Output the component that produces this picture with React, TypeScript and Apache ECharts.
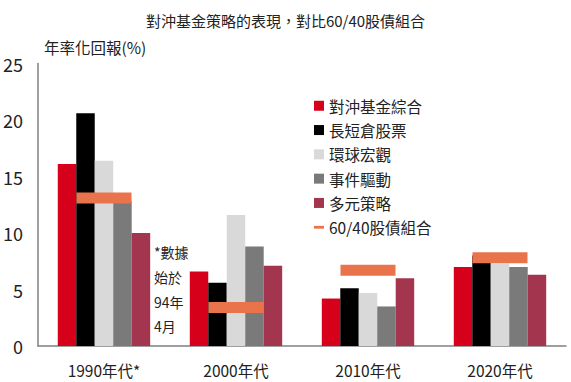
import React, { useEffect, useRef } from "react";
import * as echarts from "echarts";

const categories = ["1990年代*", "2000年代", "2010年代", "2020年代"];
const seriesNames = ["對沖基金綜合", "長短倉股票", "環球宏觀", "事件驅動", "多元策略"];
const hfComposite = [16.1, 6.6, 4.2, 7.0];
const longShort = [20.6, 5.6, 5.1, 8.0];
const globalMacro = [16.4, 11.6, 4.7, 7.3];
const eventDriven = [12.8, 8.8, 3.5, 7.0];
const multiStrategy = [10.0, 7.1, 6.0, 6.3];
const portfolio6040 = [13.1, 3.4, 6.7, 7.8];
const portfolioName = "60/40股債組合";
const yTicks = [0, 5, 10, 15, 20, 25];
const titleText = "對沖基金策略的表現，對比60/40股債組合";
const yName = "年率化回報(%)";
const noteLines = ["*數據", "始於", "94年", "4月"];

const colors = ["#d7001b", "#000000", "#d9d9d9", "#7a7a7a", "#a4354f"];
const lineColor = "#e9734b";
const FONT = "'Noto Sans CJK TC', 'Noto Sans', sans-serif";

export default function App() {
  const ref = useRef<HTMLDivElement>(null);
  useEffect(() => {
    if (!ref.current) return;
    const chart = echarts.init(ref.current, undefined, { renderer: "svg" });
    const barData = [hfComposite, longShort, globalMacro, eventDriven, multiStrategy];
    const barSeries = barData.map((d, i) => ({
      name: seriesNames[i],
      type: "bar",
      data: d,
      barGap: "0%",
      barCategoryGap: "30%",
      itemStyle: { color: colors[i] },
      z: 2,
    }));
    chart.setOption({
      animation: false,
      textStyle: { fontFamily: FONT },
      title: {
        text: titleText,
        left: "center",
        top: 8,
        textStyle: { fontSize: 15, fontWeight: "normal", color: "#222", fontFamily: FONT },
      },
      legend: {
        orient: "vertical",
        left: 309,
        top: 93,
        itemWidth: 10,
        itemHeight: 10,
        itemGap: 8.8,
        textStyle: { fontSize: 15.5, color: "#222", fontFamily: FONT },
        data: [
          ...seriesNames.map((n) => ({ name: n, icon: "rect" })),
          { name: portfolioName, icon: "path://M0,0 M0,3.6 L10,3.6 L10,6.4 L0,6.4 Z M10,10" },
        ],
      },
      grid: { left: 37, right: 5, top: 63.5, bottom: 36 },
      xAxis: {
        type: "category",
        data: categories,
        axisLine: { lineStyle: { color: "#808080", width: 1.5 } },
        axisTick: { show: false },
        axisLabel: { fontSize: 15.5, color: "#222", margin: 16, fontFamily: FONT },
      },
      yAxis: {
        type: "value",
        min: yTicks[0],
        max: yTicks[yTicks.length - 1],
        interval: 5,
        name: yName,
        nameLocation: "end",
        nameGap: 17,
        nameTextStyle: { fontSize: 15.5, color: "#222", align: "left", verticalAlign: "middle", padding: [0, 0, 0, 6], fontFamily: FONT },
        axisLine: { show: true, lineStyle: { color: "#808080", width: 1.5 } },
        axisTick: { show: false },
        splitLine: { show: false },
        axisLabel: { fontSize: 18, color: "#222", margin: 15, fontFamily: FONT },
      },
      graphic: [
        {
          type: "text",
          left: 154,
          top: 240,
          style: {
            text: noteLines.join("\n"),
            fontSize: 14,
            lineHeight: 24.6,
            fill: "#222",
            fontFamily: FONT,
          },
        },
      ],
      series: [
        ...barSeries,
        {
          name: portfolioName,
          type: "scatter",
          data: portfolio6040,
          symbol: "rect",
          symbolSize: [55, 11],
          itemStyle: { color: lineColor, opacity: 1 },
          z: 5,
        },
      ],
    });
    return () => chart.dispose();
  }, []);
  return <div ref={ref} style={{ width: 571, height: 382, position: "absolute", left: 0, top: 0 }} />;
}
